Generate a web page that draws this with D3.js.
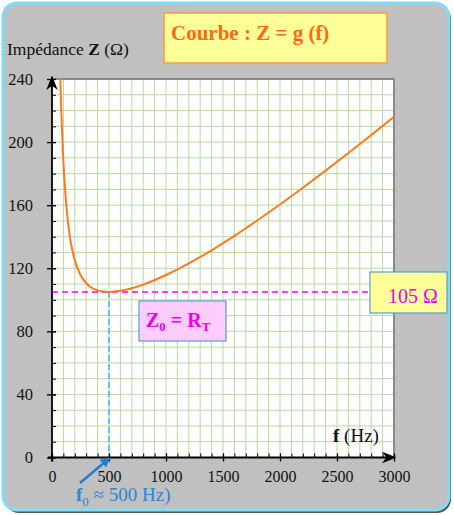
<!DOCTYPE html>
<html>
<head>
<meta charset="utf-8">
<script src="https://cdn.jsdelivr.net/npm/d3@7"></script>
<style>
  body { margin: 0; background: #ffffff; }
  svg text { font-family: "Liberation Serif", "Times New Roman", serif; }
</style>
</head>
<body>
<svg id="chart" width="454" height="515"></svg>
<script>
// --- Data
const freqs = [73, 80, 90, 100, 120, 140, 160, 180, 200, 250, 300, 350, 400, 450, 500,
  600, 700, 800, 1000, 1200, 1400, 1600, 1800, 2000, 2200, 2400, 2600, 2800, 3000];
const impedance = [240, 223, 203, 187.5, 165, 149.5, 138.5, 131, 125, 115.7, 110.5, 107.6, 106, 105.2, 105,
  105.7, 107.3, 109.6, 115.7, 123.1, 131.4, 140.5, 150.3, 160.4, 171, 181.9, 193.1, 204.4, 216];
const xTicks = [0, 500, 1000, 1500, 2000, 2500, 3000];
const yTicks = [0, 40, 80, 120, 160, 200, 240];
const resonance = { f: 500, z: 105 };

const svg = d3.select("#chart");

const x = d3.scaleLinear().domain([0, 3000]).range([52, 394]);
const y = d3.scaleLinear().domain([0, 240]).range([457.5, 79]);

// --- Panel background
svg.append("rect")
  .attr("x", 5).attr("y", 5).attr("width", 446).attr("height", 508)
  .attr("rx", 14).attr("fill", "#555");
svg.append("rect")
  .attr("x", 3).attr("y", 3).attr("width", 446).attr("height", 507)
  .attr("rx", 14)
  .attr("fill", "#c0c0c0")
  .attr("stroke", "#7fdcf5")
  .attr("stroke-width", 3);

// --- Plot area + grid
svg.append("rect")
  .attr("x", x(0)).attr("y", y(240))
  .attr("width", x(3000) - x(0)).attr("height", y(0) - y(240))
  .attr("fill", "#fff");

const grid = svg.append("g").attr("stroke", "#b9d9a2").attr("stroke-width", 1);
grid.selectAll(".vg")
  .data(d3.range(100, 3000, 100))
  .enter().append("line")
  .attr("x1", d => x(d)).attr("x2", d => x(d))
  .attr("y1", y(0)).attr("y2", y(240));
grid.selectAll(".hg")
  .data(d3.range(10, 240, 10))
  .enter().append("line")
  .attr("x1", x(0)).attr("x2", x(3000))
  .attr("y1", d => y(d)).attr("y2", d => y(d));

// top and right frame
svg.append("path")
  .attr("d", `M${x(0)},${y(240)}H${x(3000)}V${y(0)}`)
  .attr("fill", "none")
  .attr("stroke", "#8a8a8a")
  .attr("stroke-width", 2);

// --- Dashed guides
svg.append("line")
  .attr("x1", x(0)).attr("x2", 372)
  .attr("y1", y(resonance.z)).attr("y2", y(resonance.z))
  .attr("stroke", "#ff00ff").attr("stroke-width", 1.5)
  .attr("stroke-dasharray", "6,4");
svg.append("line")
  .attr("x1", x(resonance.f)).attr("x2", x(resonance.f))
  .attr("y1", y(resonance.z)).attr("y2", y(0))
  .attr("stroke", "#3cb8ec").attr("stroke-width", 1.5)
  .attr("stroke-dasharray", "6,3");

// --- Curve
const line = d3.line()
  .x((d, i) => x(freqs[i]))
  .y(d => y(d))
  .curve(d3.curveMonotoneX);
svg.append("path")
  .datum(impedance)
  .attr("d", line)
  .attr("fill", "none")
  .attr("stroke", "#ff7a1f")
  .attr("stroke-width", 2);

// --- Axes
const defs = svg.append("defs");
defs.append("marker")
  .attr("id", "arr")
  .attr("viewBox", "0 0 10 10")
  .attr("refX", 9).attr("refY", 5)
  .attr("markerWidth", 8).attr("markerHeight", 8)
  .attr("orient", "auto")
  .append("path").attr("d", "M0,1L10,5L0,9L3,5Z").attr("fill", "#000");
defs.append("marker")
  .attr("id", "arrB")
  .attr("viewBox", "0 0 10 10")
  .attr("refX", 8).attr("refY", 5)
  .attr("markerWidth", 4).attr("markerHeight", 4)
  .attr("orient", "auto")
  .append("path").attr("d", "M0,0L10,5L0,10Z").attr("fill", "#1f7ed0");

// minor ticks (inside)
svg.append("g")
  .attr("transform", `translate(0,${y(0)})`)
  .call(d3.axisTop(x).tickValues(d3.range(100, 3000, 100)).tickSize(4).tickFormat(""))
  .call(g => g.select(".domain").remove());
svg.append("g")
  .attr("transform", `translate(${x(0)},0)`)
  .call(d3.axisRight(y).tickValues(d3.range(10, 240, 10)).tickSize(4).tickFormat(""))
  .call(g => g.select(".domain").remove());

const xAxis = svg.append("g")
  .attr("transform", `translate(0,${y(0)})`)
  .call(d3.axisBottom(x).tickValues(xTicks).tickFormat(d3.format("d"))
    .tickSizeInner(4).tickSizeOuter(0).tickPadding(9))
  .attr("font-family", "Liberation Serif, Times New Roman, serif")
  .call(g => g.select(".domain").remove());
xAxis.selectAll(".tick line").attr("y1", -4).attr("stroke-width", 1.3);
xAxis.selectAll("text").attr("font-size", 16).attr("fill", "#111");

const yAxis = svg.append("g")
  .attr("transform", `translate(${x(0)},0)`)
  .call(d3.axisLeft(y).tickValues(yTicks).tickSizeInner(5).tickSizeOuter(0).tickPadding(14))
  .attr("font-family", "Liberation Serif, Times New Roman, serif")
  .call(g => g.select(".domain").remove());
yAxis.selectAll(".tick line").attr("x1", 4).attr("stroke-width", 1.3);
yAxis.selectAll("text").attr("font-size", 16.5).attr("fill", "#111");

svg.append("line")
  .attr("x1", x(0) - 4).attr("x2", x(3000) + 1)
  .attr("y1", y(0)).attr("y2", y(0))
  .attr("stroke", "#000").attr("stroke-width", 1.8)
  .attr("marker-end", "url(#arr)");
svg.append("line")
  .attr("x1", x(0)).attr("x2", x(0))
  .attr("y1", y(0) + 4).attr("y2", y(240) - 2)
  .attr("stroke", "#000").attr("stroke-width", 1.8)
  .attr("marker-end", "url(#arr)");

// --- Axis titles
const yTitle = svg.append("text").attr("x", 7).attr("y", 55).attr("font-size", 17.5).attr("fill", "#111");
yTitle.append("tspan").text("Impédance ");
yTitle.append("tspan").attr("font-weight", "bold").text("Z");
yTitle.append("tspan").text(" (Ω)");

const xTitle = svg.append("text").attr("x", 333).attr("y", 442).attr("font-size", 19).attr("fill", "#111");
xTitle.append("tspan").attr("font-weight", "bold").text("f");
xTitle.append("tspan").text("  (Hz)");

// --- Title box
svg.append("rect")
  .attr("x", 164).attr("y", 13).attr("width", 223).attr("height", 50)
  .attr("fill", "#ffff99").attr("stroke", "#ff9a3c").attr("stroke-width", 1.5);
svg.append("text")
  .attr("x", 171).attr("y", 40)
  .attr("font-size", 21).attr("font-weight", "bold")
  .attr("fill", "#ff6a10")
  .text("Courbe : Z = g (f)");

// --- 105 Ω box
svg.append("rect")
  .attr("x", 370).attr("y", 272).attr("width", 77).attr("height", 41)
  .attr("fill", "#ffff99").attr("stroke", "#5b9bd5").attr("stroke-width", 1.2);
svg.append("text")
  .attr("x", 388).attr("y", 303)
  .attr("font-size", 20).attr("fill", "#ee00ee")
  .text(resonance.z + " Ω");

// --- Z0 = RT box
svg.append("rect")
  .attr("x", 139).attr("y", 301).attr("width", 87).attr("height", 40)
  .attr("fill", "#ffccff").attr("stroke", "#5b9bd5").attr("stroke-width", 1.2);
const zt = svg.append("text")
  .attr("x", 146).attr("y", 327)
  .attr("font-size", 20).attr("font-weight", "bold").attr("fill", "#ee00ee");
zt.append("tspan").text("Z");
zt.append("tspan").attr("font-size", 13).attr("dy", 4).text("0");
zt.append("tspan").attr("dy", -4).text(" = R");
zt.append("tspan").attr("font-size", 13).attr("dy", 4).text("T");

// --- f0 annotation
svg.append("line")
  .attr("x1", 80).attr("y1", 483)
  .attr("x2", x(resonance.f)).attr("y2", y(0) + 1)
  .attr("stroke", "#1f7ed0").attr("stroke-width", 2.5)
  .attr("marker-end", "url(#arrB)");

const ft = svg.append("text")
  .attr("x", 76).attr("y", 501)
  .attr("font-size", 19).attr("fill", "#2a86d6");
ft.append("tspan").attr("font-weight", "bold").text("f");
ft.append("tspan").attr("font-size", 13).attr("dy", 5).text("0");
ft.append("tspan").attr("dy", -5).text(" ≈ 500 Hz)");
</script>
</body>
</html>
